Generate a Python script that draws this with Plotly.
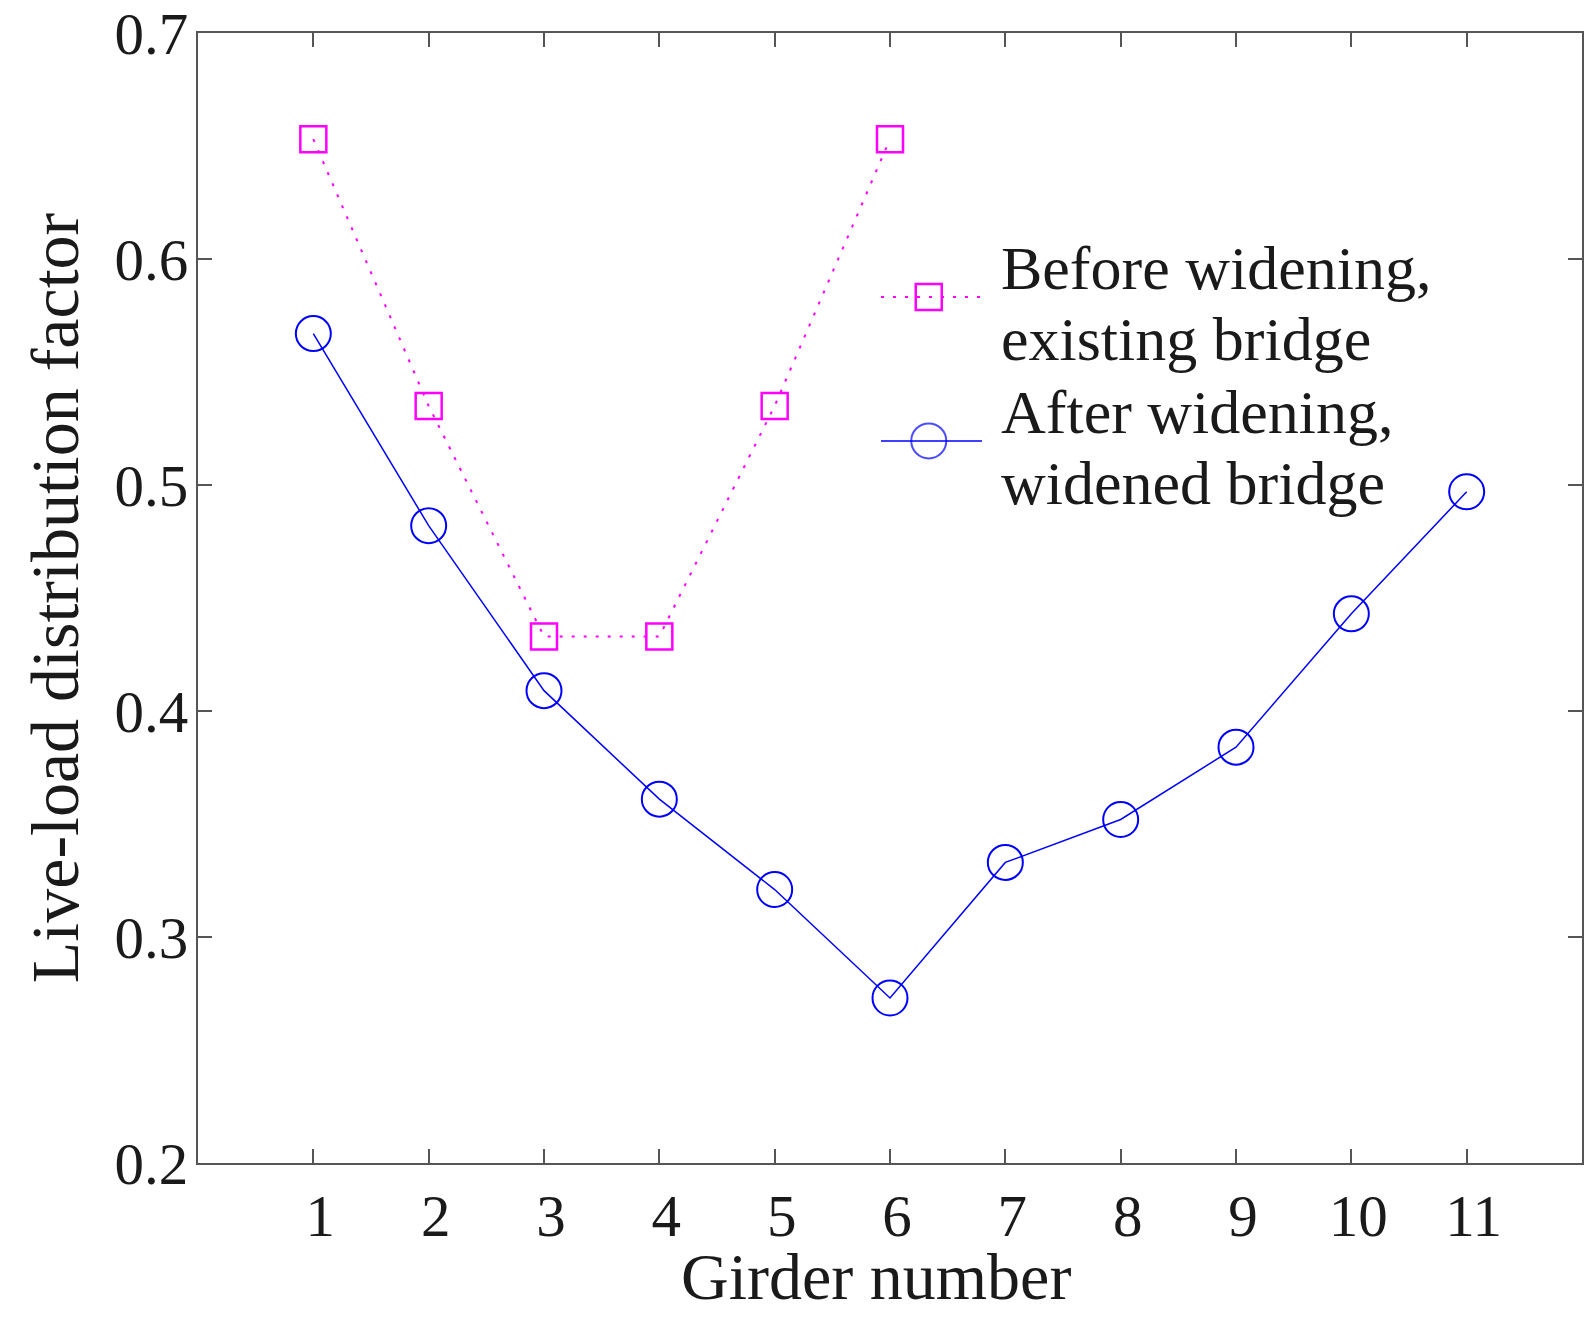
import plotly.graph_objects as go

# Girder numbers and live-load distribution factors
girders_before = [1, 2, 3, 4, 5, 6]
ldf_before = [0.653, 0.535, 0.433, 0.433, 0.535, 0.653]

girders_after = [1, 2, 3, 4, 5, 6, 7, 8, 9, 10, 11]
ldf_after = [0.567, 0.482, 0.409, 0.361, 0.321, 0.273, 0.333, 0.352, 0.384, 0.443, 0.497]

x_ticks = list(range(1, 12))
y_ticks = [0.2, 0.3, 0.4, 0.5, 0.6, 0.7]

x_title = "Girder number"
y_title = "Live-load distribution factor"
label_before = ["Before widening,", "existing bridge"]
label_after = ["After widening,", "widened bridge"]

FONT = "Liberation Serif"
AXIS_COLOR = "#555555"
TEXT_COLOR = "#1a1a1a"
PINK = "#FF00FF"
BLUE = "#0000FF"

fig = go.Figure()

fig.add_trace(go.Scatter(
    x=girders_before, y=ldf_before, mode="lines+markers",
    line=dict(color=PINK, width=2, dash="3px,9px"),
    marker=dict(symbol="square-open", size=26, color=PINK, line=dict(width=2.5, color=PINK)),
    showlegend=False,
))
fig.add_trace(go.Scatter(
    x=girders_after, y=ldf_after, mode="lines+markers",
    line=dict(color=BLUE, width=1.5),
    marker=dict(symbol="circle-open", size=35, color=BLUE, line=dict(width=2, color=BLUE)),
    showlegend=False,
))

# Legend keys drawn on an overlay axis spanning the plot area in [0, 1]
key_x0, key_xm, key_x1 = 0.4935, 0.528, 0.5665
key_y_before, key_y_after = 0.7664, 0.639
fig.add_trace(go.Scatter(
    x=[key_x0, key_x1], y=[key_y_before, key_y_before], mode="lines",
    line=dict(color=PINK, width=2, dash="3px,9px"),
    xaxis="x2", yaxis="y2", showlegend=False, hoverinfo="skip",
))
fig.add_trace(go.Scatter(
    x=[key_xm], y=[key_y_before], mode="markers",
    marker=dict(symbol="square-open", size=26, color=PINK, line=dict(width=2.5, color=PINK)),
    xaxis="x2", yaxis="y2", showlegend=False, hoverinfo="skip",
))
fig.add_trace(go.Scatter(
    x=[key_x0, key_xm, key_x1], y=[key_y_after] * 3, mode="lines+markers",
    line=dict(color=BLUE, width=1.5),
    marker=dict(symbol="circle-open", size=[0, 35, 0], color=BLUE, line=dict(width=2, color=BLUE)),
    xaxis="x2", yaxis="y2", showlegend=False, hoverinfo="skip",
))

axis_common = dict(
    showline=True, linecolor=AXIS_COLOR, linewidth=2, mirror="ticks",
    ticks="inside", ticklen=14, tickwidth=2, tickcolor=AXIS_COLOR,
    showgrid=False, zeroline=False,
    tickfont=dict(family=FONT, size=59, color=TEXT_COLOR),
    title_font=dict(family=FONT, size=68, color=TEXT_COLOR),
)

# Legend text, one annotation per line
legend_lines = label_before + label_after
legend_line_y = [0.792, 0.7292, 0.6646, 0.6018]
annotations = [
    dict(xref="paper", yref="paper", x=0.579, y=yy, xanchor="left", yanchor="middle",
         text=txt, showarrow=False, align="left",
         font=dict(family=FONT, size=62, color=TEXT_COLOR))
    for txt, yy in zip(legend_lines, legend_line_y)
]
# x-axis title placed just below the tick labels
annotations.append(dict(
    xref="paper", yref="paper", x=0.4899, y=-0.1005, xanchor="center", yanchor="middle",
    text=x_title, showarrow=False, borderpad=0,
    font=dict(family=FONT, size=66, color=TEXT_COLOR),
))

fig.update_layout(
    width=1585, height=1317,
    margin=dict(l=198, r=1, t=33, b=154),
    paper_bgcolor="white", plot_bgcolor="white",
    xaxis=dict(range=[0, 12], tickvals=x_ticks, ticktext=[str(v) for v in x_ticks],
               ticklabelstandoff=0, ticklabelshift=7, **axis_common),
    yaxis=dict(range=[0.2, 0.7], tickvals=y_ticks, ticktext=[f"{v:.1f}" for v in y_ticks],
               title=dict(text=y_title, standoff=14), ticklabelstandoff=-4,
               **axis_common),
    xaxis2=dict(range=[0, 1], overlaying="x", visible=False, fixedrange=True),
    yaxis2=dict(range=[0, 1], overlaying="y", visible=False, fixedrange=True),
    annotations=annotations,
)

fig.write_html("out.html")
